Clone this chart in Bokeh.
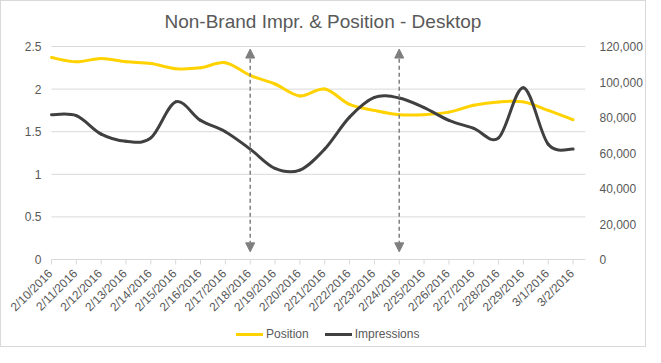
import math
from bokeh.plotting import figure
from bokeh.models import (Range1d, LinearAxis, FixedTicker, NumeralTickFormatter,
                          Legend, LegendItem, Arrow, NormalHead)
from bokeh.core.properties import value
from bokeh.embed import file_html
from bokeh.resources import INLINE

dates = ["2/10/2016", "2/11/2016", "2/12/2016", "2/13/2016", "2/14/2016", "2/15/2016",
         "2/16/2016", "2/17/2016", "2/18/2016", "2/19/2016", "2/20/2016", "2/21/2016",
         "2/22/2016", "2/23/2016", "2/24/2016", "2/25/2016", "2/26/2016", "2/27/2016",
         "2/28/2016", "2/29/2016", "3/1/2016", "3/2/2016"]
position = [2.37, 2.32, 2.36, 2.32, 2.30, 2.24, 2.25, 2.31, 2.16, 2.06, 1.92, 2.00,
            1.82, 1.75, 1.70, 1.70, 1.73, 1.81, 1.85, 1.85, 1.75, 1.64]
impressions = [81600, 81000, 70600, 66600, 68500, 88800, 78400, 72000, 62200, 51300,
               50400, 62200, 80200, 91300, 91000, 85600, 78400, 73900, 68500, 96700,
               64900, 62200]
left_ticks = [0, 0.5, 1, 1.5, 2, 2.5]
left_tick_labels = ["0", "0.5", "1", "1.5", "2", "2.5"]
right_ticks = [0, 20000, 40000, 60000, 80000, 100000, 120000]
arrow_dates = ["2/18/2016", "2/24/2016"]

FONT = "Liberation Sans"
GREY_TXT = "#595959"
GRID = "#d9d9d9"
YELLOW = "#FFD200"
DARK = "#404040"

# layout (pixels)
FRAME_H = 308
TOP_PAD = 8
PLOT_H = 213
PLOT_W = 534
LEFT_PAD = 46
xs = list(range(len(dates)))
x_end = len(dates) - 0.5
x_start = -LEFT_PAD * x_end / PLOT_W

ppu = PLOT_H / left_ticks[-1]
y_top = left_ticks[-1] + TOP_PAD / ppu
y_bottom = -(FRAME_H - TOP_PAD - PLOT_H) / ppu
scale = right_ticks[-1] / left_ticks[-1]
px = 1.0 / ppu

p = figure(frame_width=PLOT_W + LEFT_PAD, frame_height=FRAME_H, output_backend="svg",
           toolbar_location=None,
           x_range=Range1d(x_start, x_end), y_range=Range1d(y_bottom, y_top),
           x_axis_location=None, y_axis_location=None,
           min_border_left=4, min_border_right=59, min_border_top=37, min_border_bottom=0,
           title="Non-Brand Impr. & Position - Desktop")
p.extra_y_ranges = {"imp": Range1d(y_bottom * scale, y_top * scale)}
p.outline_line_color = None
p.background_fill_color = "white"
p.border_fill_color = "white"
p.xgrid.visible = False
p.ygrid.visible = False

p.title.align = "left"
p.title.offset = 159
p.title.text_font = FONT
p.title.text_font_size = "19px"
p.title.text_font_style = "normal"
p.title.text_color = GREY_TXT
p.title.standoff = 13

# right axis
ra = LinearAxis(y_range_name="imp", ticker=FixedTicker(ticks=right_ticks),
                formatter=NumeralTickFormatter(format="0,0"))
ra.axis_line_color = None
ra.major_tick_line_color = None
ra.minor_tick_line_color = None
ra.major_label_text_font = FONT
ra.major_label_text_font_size = "12px"
ra.major_label_text_color = GREY_TXT
ra.major_label_standoff = 8
p.add_layout(ra, "right")

# horizontal gridlines and left value labels
n_t = len(left_ticks)
p.segment(x0=[0] * n_t, y0=left_ticks, x1=[x_end] * n_t, y1=left_ticks,
          line_color=GRID, line_width=1)
p.text(x=[0] * n_t, y=left_ticks, text=left_tick_labels, x_offset=-10,
       text_align="right", text_baseline="middle",
       text_font=value(FONT), text_font_size="12px", text_color=GREY_TXT)

# category axis: tick marks and rotated labels
p.segment(x0=xs, y0=[0] * len(xs), x1=xs, y1=[-5 * px] * len(xs),
          line_color=GRID, line_width=1)
p.text(x=xs, y=[0] * len(xs), text=dates, angle=math.pi / 4,
       x_offset=-1, y_offset=12, text_align="right", text_baseline="middle",
       text_font=value(FONT), text_font_size="12px", text_color=GREY_TXT)


def smooth(xv, yv):
    n = len(xv)
    out = {k: [] for k in ("x0", "y0", "x1", "y1", "cx0", "cy0", "cx1", "cy1")}
    for i in range(n - 1):
        i0 = max(i - 1, 0)
        i3 = min(i + 2, n - 1)
        out["x0"].append(xv[i]); out["y0"].append(yv[i])
        out["x1"].append(xv[i + 1]); out["y1"].append(yv[i + 1])
        out["cx0"].append(xv[i] + (xv[i + 1] - xv[i0]) / 6)
        out["cy0"].append(yv[i] + (yv[i + 1] - yv[i0]) / 6)
        out["cx1"].append(xv[i + 1] - (xv[i3] - xv[i]) / 6)
        out["cy1"].append(yv[i + 1] - (yv[i3] - yv[i]) / 6)
    return out


r_pos = p.bezier(source=smooth(xs, position), x0="x0", y0="y0", x1="x1", y1="y1",
                 cx0="cx0", cy0="cy0", cx1="cx1", cy1="cy1",
                 line_color=YELLOW, line_width=3, line_cap="round")
r_imp = p.bezier(source=smooth(xs, impressions), x0="x0", y0="y0", x1="x1", y1="y1",
                 cx0="cx0", cy0="cy0", cx1="cx1", cy1="cy1",
                 line_color=DARK, line_width=3, line_cap="round", y_range_name="imp")

for d in arrow_dates:
    xi = dates.index(d)
    arr = Arrow(x_start=xi, y_start=0.09, x_end=xi, y_end=2.47,
                line_color="#7f7f7f", line_width=1.5, line_dash="4 3",
                start=NormalHead(size=9, fill_color="#7f7f7f", line_color="#7f7f7f"),
                end=NormalHead(size=9, fill_color="#7f7f7f", line_color="#7f7f7f"))
    p.add_layout(arr)

legend = Legend(items=[LegendItem(label="Position", renderers=[r_pos]),
                       LegendItem(label="Impressions", renderers=[r_imp])],
                orientation="horizontal", location=(185 + LEFT_PAD, 5),
                border_line_color=None, background_fill_alpha=0,
                label_text_font=FONT, label_text_font_size="12px",
                label_text_color=GREY_TXT, glyph_width=27, glyph_height=14,
                label_height=14, padding=0, spacing=16, label_standoff=3, margin=0)
p.add_layout(legend, "center")

p.styles = {"border": "1px solid #d9d9d9"}

open("out.html", "w").write(file_html(p, INLINE))
